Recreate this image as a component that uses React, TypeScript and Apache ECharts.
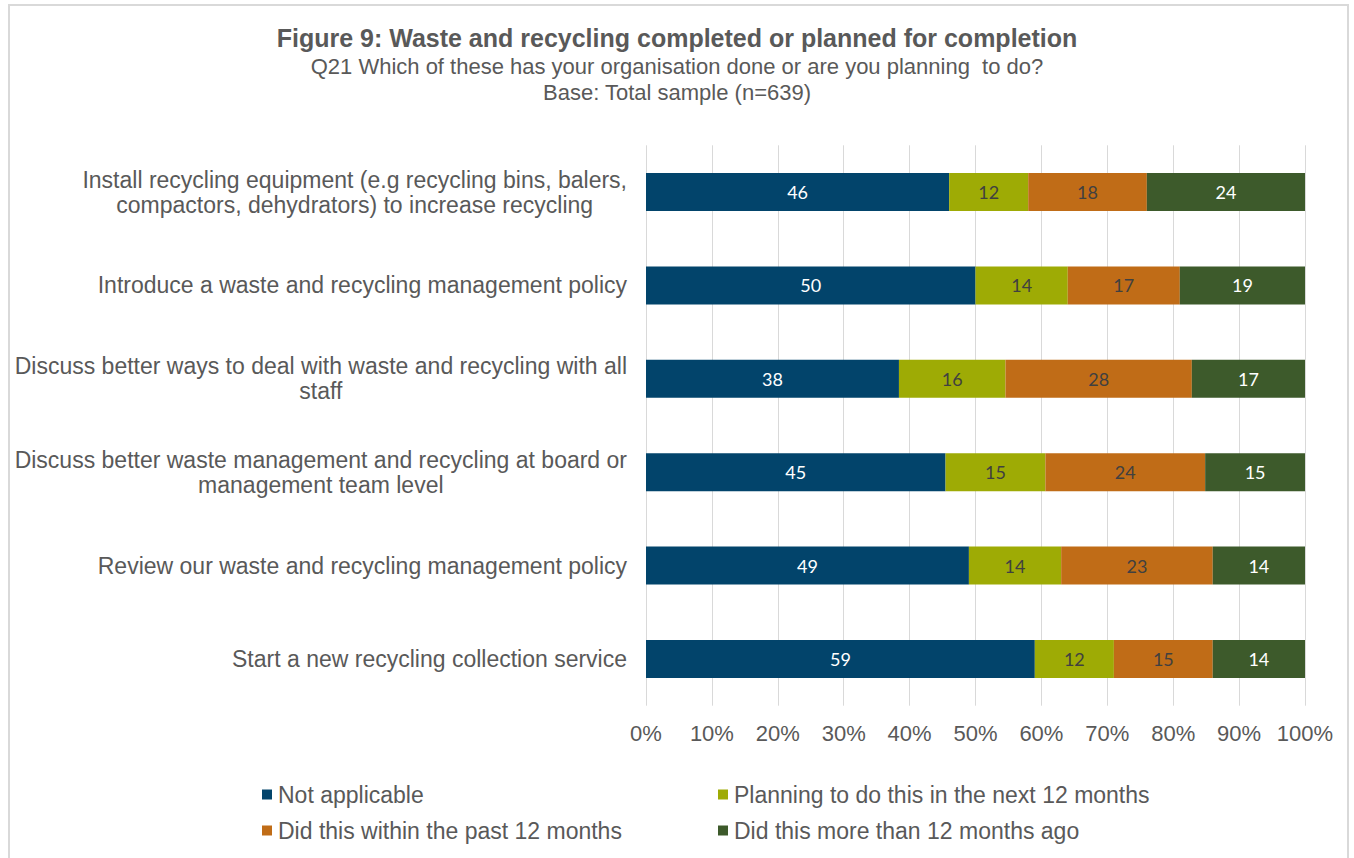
import React, { useEffect, useRef } from "react";
import * as echarts from "echarts";

const categories = [
  "Install recycling equipment (e.g recycling bins, balers,\ncompactors, dehydrators) to increase recycling",
  "Introduce a waste and recycling management policy",
  "Discuss better ways to deal with waste and recycling with all\nstaff",
  "Discuss better waste management and recycling at board or\nmanagement team level",
  "Review our waste and recycling management policy",
  "Start a new recycling collection service",
];
const seriesNames = [
  "Not applicable",
  "Planning to do this in the next 12 months",
  "Did this within the past 12 months",
  "Did this more than 12 months ago",
];
const notApplicable = [46, 50, 38, 45, 49, 59];
const planningNext12 = [12, 14, 16, 15, 14, 12];
const withinPast12 = [18, 17, 28, 24, 23, 15];
const moreThan12Ago = [24, 19, 17, 15, 14, 14];
const xTicks = [0, 10, 20, 30, 40, 50, 60, 70, 80, 90, 100];

const colors = ["#02446B", "#9EAB05", "#C06C17", "#3D5A2B"];
const labelColors = ["#FFFFFF", "#404040", "#404040", "#FFFFFF"];
const TXT = "#595959";
const FONT = "Liberation Sans";

export default function App() {
  const ref = useRef<HTMLDivElement>(null);
  useEffect(() => {
    document.body.style.margin = "0";
    if (!ref.current) return;
    const chart = echarts.init(ref.current, null, { renderer: "svg" });
    const raw = [notApplicable, planningNext12, withinPast12, moreThan12Ago];
    const totals = categories.map((_, i) => raw.reduce((s, a) => s + a[i], 0));
    const series = raw.map((arr, si) => ({
      name: seriesNames[si],
      type: "bar",
      stack: "total",
      barWidth: 38,
      itemStyle: { color: colors[si] },
      label: {
        show: true,
        position: "inside",
        color: labelColors[si],
        fontFamily: "Lato",
        fontSize: 18,
        formatter: (p: any) => String(arr[p.dataIndex]),
      },
      data: arr.map((v, i) => (v / totals[i]) * 100),
    }));
    const legendPos = [
      { left: 262, top: 783 },
      { left: 718, top: 783 },
      { left: 262, top: 819 },
      { left: 718, top: 819 },
    ];
    chart.setOption({
      animation: false,
      title: [
        {
          text: "Figure 9: Waste and recycling completed or planned for completion",
          left: "center",
          top: 25,
          padding: 0,
          textStyle: { fontFamily: FONT, fontSize: 25, fontWeight: "bold", color: TXT },
        },
        {
          text: "Q21 Which of these has your organisation done or are you planning  to do?",
          left: "center",
          top: 55,
          padding: 0,
          textStyle: { fontFamily: FONT, fontSize: 22, fontWeight: "normal", color: TXT },
        },
        {
          text: "Base: Total sample (n=639)",
          left: "center",
          top: 81,
          padding: 0,
          textStyle: { fontFamily: FONT, fontSize: 22, fontWeight: "normal", color: TXT },
        },
      ],
      graphic: [
        {
          type: "rect",
          shape: { x: 9, y: 5, width: 1339, height: 900 },
          style: { fill: "none", stroke: "#D9D9D9", lineWidth: 2 },
          silent: true,
        },
      ],
      legend: legendPos.map((pos, i) => ({
        data: [seriesNames[i]],
        left: pos.left,
        top: pos.top,
        icon: "rect",
        itemWidth: 10,
        itemHeight: 10,
        itemGap: 0,
        padding: 0,
        textStyle: { fontFamily: FONT, fontSize: 23, color: TXT, padding: [0, 0, 0, 1] },
        selectedMode: false,
      })),
      grid: { left: 646, right: 49, top: 145.3, bottom: 152.3, containLabel: false },
      xAxis: {
        type: "value",
        min: 0,
        max: 100,
        interval: 10,
        axisLine: { show: false },
        axisTick: { show: false },
        splitLine: { show: true, lineStyle: { color: "#D9D9D9", width: 1 } },
        axisLabel: {
          margin: 17,
          fontFamily: FONT,
          fontSize: 22,
          color: TXT,
          formatter: (v: number) => (xTicks.includes(v) ? v + "%" : ""),
        },
      },
      yAxis: {
        type: "category",
        inverse: true,
        data: categories,
        axisLine: { show: false },
        axisTick: { show: false },
        axisLabel: {
          margin: 19,
          align: "right",
          formatter: (v: string) =>
            v
              .split("\n")
              .map((l) => `{c|${l}}`)
              .join("\n"),
          rich: {
            c: { align: "center", fontFamily: FONT, fontSize: 23, color: TXT, lineHeight: 25 },
          },
        },
      },
      series,
    });
    return () => chart.dispose();
  }, []);
  return <div ref={ref} style={{ width: 1354, height: 858 }} />;
}
